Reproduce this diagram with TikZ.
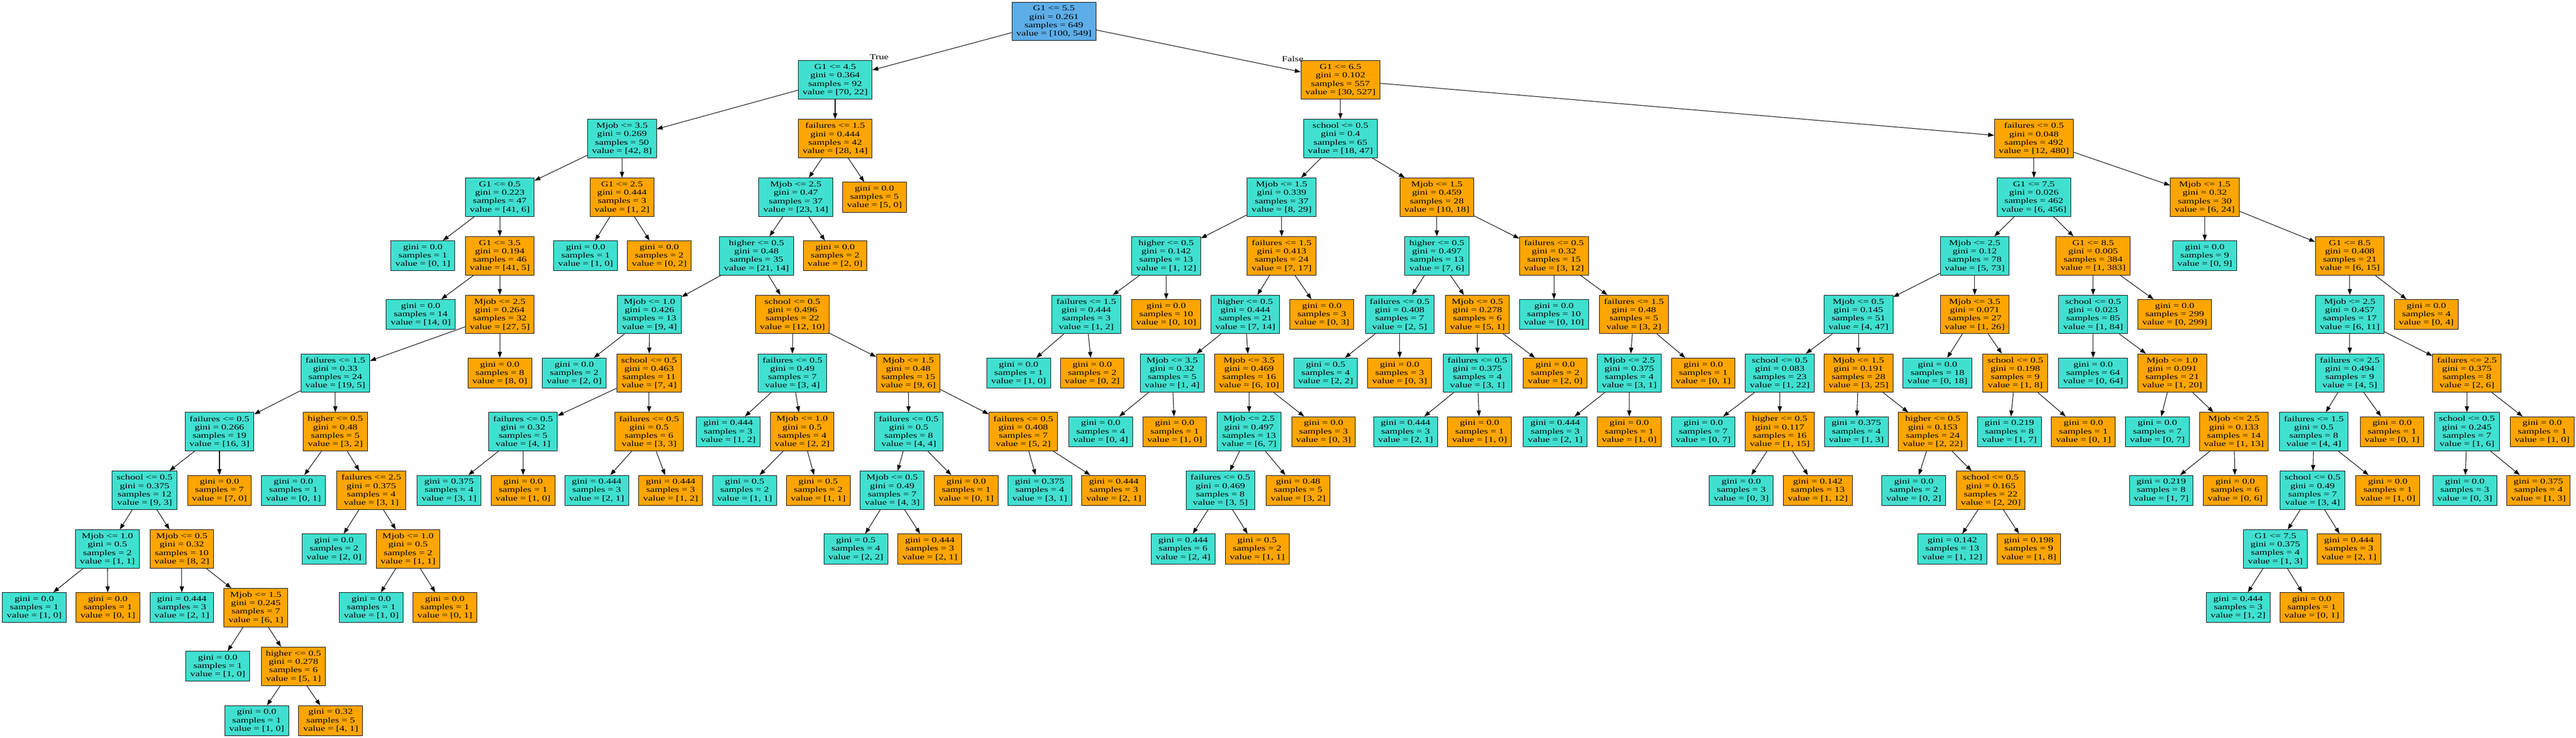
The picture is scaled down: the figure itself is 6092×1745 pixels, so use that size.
\documentclass[tikz,border=0pt]{standalone}
\usepackage{fontspec}
\setmainfont{Liberation Serif}[FakeStretch=1.337]
\usetikzlibrary{arrows.meta}
\definecolor{tq}{RGB}{64,224,208}
\definecolor{og}{RGB}{255,165,0}
\definecolor{rb}{RGB}{93,173,232}
\tikzset{
 tbox/.style={draw=black, line width=1.2pt, rectangle, align=center, inner xsep=10.5pt, inner ysep=0pt, font=\fontsize{18}{19.8}\selectfont},
 inode/.style={tbox, minimum height=91pt},
 lnode/.style={tbox, minimum height=71pt},
 cl/.style={fill=tq}, cr/.style={fill=og}, croot/.style={fill=rb},
 conn/.style={line width=1.3pt, -{Triangle[length=14pt,width=10pt]}},
 lbl/.style={font=\fontsize{18}{19.8}\selectfont, inner sep=0pt}
}
\newcommand{\inn}[8]{\node[inode,#2] (#1) at (#3,#4) {#5\\gini = #6\\samples = #7\\value = [#8]};}
\newcommand{\lf}[7]{\node[lnode,#2] (#1) at (#3,#4) {gini = #5\\samples = #6\\value = [#7]};}
\begin{document}
\begin{tikzpicture}[x=1pt,y=-1pt]
\fill[white] (0,0) rectangle (6092,1745);
\useasboundingbox (0,0) rectangle (6092,1745);
% rank 0
\inn{n0}{croot}{2492.5}{50.5}{G1 <= 5.5}{0.261}{649}{100, 549}
% rank 1
\inn{n1}{cl}{1975}{189.2}{G1 <= 4.5}{0.364}{92}{70, 22}
\inn{n2}{cr}{3170}{189.2}{G1 <= 6.5}{0.102}{557}{30, 527}
% rank 2
\inn{n3}{cl}{1471}{327.9}{Mjob <= 3.5}{0.269}{50}{42, 8}
\inn{n4}{cr}{1975}{327.9}{failures <= 1.5}{0.444}{42}{28, 14}
\inn{n5}{cl}{3170}{327.9}{school <= 0.5}{0.4}{65}{18, 47}
\inn{n6}{cr}{4810}{327.9}{failures <= 0.5}{0.048}{492}{12, 480}
% rank 3
\inn{n7}{cl}{1182}{466.6}{G1 <= 0.5}{0.223}{47}{41, 6}
\inn{n8}{cr}{1471}{466.6}{G1 <= 2.5}{0.444}{3}{1, 2}
\inn{n9}{cl}{1882}{466.6}{Mjob <= 2.5}{0.47}{37}{23, 14}
\lf{n10}{cr}{2068}{466.6}{0.0}{5}{5, 0}
\inn{n11}{cl}{3031}{466.6}{Mjob <= 1.5}{0.339}{37}{8, 29}
\inn{n12}{cr}{3398}{466.6}{Mjob <= 1.5}{0.459}{28}{10, 18}
\inn{n13}{cl}{4810}{466.6}{G1 <= 7.5}{0.026}{462}{6, 456}
\inn{n14}{cr}{5214}{466.6}{Mjob <= 1.5}{0.32}{30}{6, 24}
% rank 4
\lf{n15}{cl}{1000}{605.3}{0.0}{1}{0, 1}
\inn{n16}{cr}{1182}{605.3}{G1 <= 3.5}{0.194}{46}{41, 5}
\lf{n17}{cl}{1385}{605.3}{0.0}{1}{1, 0}
\lf{n18}{cr}{1559}{605.3}{0.0}{2}{0, 2}
\inn{n19}{cl}{1789}{605.3}{higher <= 0.5}{0.48}{35}{21, 14}
\lf{n20}{cr}{1975}{605.3}{0.0}{2}{2, 0}
\inn{n21}{cl}{2758}{605.3}{higher <= 0.5}{0.142}{13}{1, 12}
\inn{n22}{cr}{3031}{605.3}{failures <= 1.5}{0.413}{24}{7, 17}
\inn{n23}{cl}{3398}{605.3}{higher <= 0.5}{0.497}{13}{7, 6}
\inn{n24}{cr}{3675}{605.3}{failures <= 0.5}{0.32}{15}{3, 12}
\inn{n25}{cl}{4670}{605.3}{Mjob <= 2.5}{0.12}{78}{5, 73}
\inn{n26}{cr}{4950}{605.3}{G1 <= 8.5}{0.005}{384}{1, 383}
\lf{n27}{cl}{5214}{605.3}{0.0}{9}{0, 9}
\inn{n28}{cr}{5557}{605.3}{G1 <= 8.5}{0.408}{21}{6, 15}
% rank 5
\lf{n29}{cl}{995}{744}{0.0}{14}{14, 0}
\inn{n30}{cr}{1182}{744}{Mjob <= 2.5}{0.264}{32}{27, 5}
\inn{n31}{cl}{1536}{744}{Mjob <= 1.0}{0.426}{13}{9, 4}
\inn{n32}{cr}{1874}{744}{school <= 0.5}{0.496}{22}{12, 10}
\inn{n33}{cl}{2569}{744}{failures <= 1.5}{0.444}{3}{1, 2}
\lf{n34}{cr}{2758}{744}{0.0}{10}{0, 10}
\inn{n35}{cl}{2945}{744}{higher <= 0.5}{0.444}{21}{7, 14}
\lf{n36}{cr}{3126}{744}{0.0}{3}{0, 3}
\inn{n37}{cl}{3310}{744}{failures <= 0.5}{0.408}{7}{2, 5}
\inn{n38}{cr}{3494}{744}{Mjob <= 0.5}{0.278}{6}{5, 1}
\lf{n39}{cl}{3675}{744}{0.0}{10}{0, 10}
\inn{n40}{cr}{3864}{744}{failures <= 1.5}{0.48}{5}{3, 2}
\inn{n41}{cl}{4395}{744}{Mjob <= 0.5}{0.145}{51}{4, 47}
\inn{n42}{cr}{4670}{744}{Mjob <= 3.5}{0.071}{27}{1, 26}
\inn{n43}{cl}{4950}{744}{school <= 0.5}{0.023}{85}{1, 84}
\lf{n44}{cr}{5143}{744}{0.0}{299}{0, 299}
\inn{n45}{cl}{5557}{744}{Mjob <= 2.5}{0.457}{17}{6, 11}
\lf{n46}{cr}{5738}{744}{0.0}{4}{0, 4}
% rank 6
\inn{n47}{cl}{793}{882.7}{failures <= 1.5}{0.33}{24}{19, 5}
\lf{n48}{cr}{1182}{882.7}{0.0}{8}{8, 0}
\lf{n49}{cl}{1358}{882.7}{0.0}{2}{2, 0}
\inn{n50}{cr}{1535}{882.7}{school <= 0.5}{0.463}{11}{7, 4}
\inn{n51}{cl}{1874}{882.7}{failures <= 0.5}{0.49}{7}{3, 4}
\inn{n52}{cr}{2148}{882.7}{Mjob <= 1.5}{0.48}{15}{9, 6}
\lf{n53}{cl}{2409}{882.7}{0.0}{1}{1, 0}
\lf{n54}{cr}{2583}{882.7}{0.0}{2}{0, 2}
\inn{n55}{cl}{2772}{882.7}{Mjob <= 3.5}{0.32}{5}{1, 4}
\inn{n56}{cr}{2954}{882.7}{Mjob <= 3.5}{0.469}{16}{6, 10}
\lf{n57}{cl}{3135}{882.7}{0.5}{4}{2, 2}
\lf{n58}{cr}{3310}{882.7}{0.0}{3}{0, 3}
\inn{n59}{cl}{3494}{882.7}{failures <= 0.5}{0.375}{4}{3, 1}
\lf{n60}{cr}{3678}{882.7}{0.0}{2}{2, 0}
\inn{n61}{cl}{3853}{882.7}{Mjob <= 2.5}{0.375}{4}{3, 1}
\lf{n62}{cr}{4028}{882.7}{0.0}{1}{0, 1}
\inn{n63}{cl}{4209}{882.7}{school <= 0.5}{0.083}{23}{1, 22}
\inn{n64}{cr}{4395}{882.7}{Mjob <= 1.5}{0.191}{28}{3, 25}
\lf{n65}{cl}{4582}{882.7}{0.0}{18}{0, 18}
\inn{n66}{cr}{4766}{882.7}{school <= 0.5}{0.198}{9}{1, 8}
\lf{n67}{cl}{4950}{882.7}{0.0}{64}{0, 64}
\inn{n68}{cr}{5137}{882.7}{Mjob <= 1.0}{0.091}{21}{1, 20}
\inn{n69}{cl}{5557}{882.7}{failures <= 2.5}{0.494}{9}{4, 5}
\inn{n70}{cr}{5834}{882.7}{failures <= 2.5}{0.375}{8}{2, 6}
% rank 7
\inn{n71}{cl}{519}{1021.4}{failures <= 0.5}{0.266}{19}{16, 3}
\inn{n72}{cr}{793}{1021.4}{higher <= 0.5}{0.48}{5}{3, 2}
\inn{n73}{cl}{1237}{1021.4}{failures <= 0.5}{0.32}{5}{4, 1}
\inn{n74}{cr}{1535}{1021.4}{failures <= 0.5}{0.5}{6}{3, 3}
\lf{n75}{cl}{1722}{1021.4}{0.444}{3}{1, 2}
\inn{n76}{cr}{1897}{1021.4}{Mjob <= 1.0}{0.5}{4}{2, 2}
\inn{n77}{cl}{2149}{1021.4}{failures <= 0.5}{0.5}{8}{4, 4}
\inn{n78}{cr}{2420}{1021.4}{failures <= 0.5}{0.408}{7}{5, 2}
\lf{n79}{cl}{2603}{1021.4}{0.0}{4}{0, 4}
\lf{n80}{cr}{2778}{1021.4}{0.0}{1}{1, 0}
\inn{n81}{cl}{2954}{1021.4}{Mjob <= 2.5}{0.497}{13}{6, 7}
\lf{n82}{cr}{3130}{1021.4}{0.0}{3}{0, 3}
\lf{n83}{cl}{3324}{1021.4}{0.444}{3}{2, 1}
\lf{n84}{cr}{3499}{1021.4}{0.0}{1}{1, 0}
\lf{n85}{cl}{3678}{1021.4}{0.444}{3}{2, 1}
\lf{n86}{cr}{3853}{1021.4}{0.0}{1}{1, 0}
\lf{n87}{cl}{4028}{1021.4}{0.0}{7}{0, 7}
\inn{n88}{cr}{4209}{1021.4}{higher <= 0.5}{0.117}{16}{1, 15}
\lf{n89}{cl}{4390}{1021.4}{0.375}{4}{1, 3}
\inn{n90}{cr}{4571}{1021.4}{higher <= 0.5}{0.153}{24}{2, 22}
\lf{n91}{cl}{4752}{1021.4}{0.219}{8}{1, 7}
\lf{n92}{cr}{4927}{1021.4}{0.0}{1}{0, 1}
\lf{n93}{cl}{5102}{1021.4}{0.0}{7}{0, 7}
\inn{n94}{cr}{5283}{1021.4}{Mjob <= 2.5}{0.133}{14}{1, 13}
\inn{n95}{cl}{5472}{1021.4}{failures <= 1.5}{0.5}{8}{4, 4}
\lf{n96}{cr}{5657}{1021.4}{0.0}{1}{0, 1}
\inn{n97}{cl}{5834}{1021.4}{school <= 0.5}{0.245}{7}{1, 6}
\lf{n98}{cr}{6012}{1021.4}{0.0}{1}{1, 0}
% rank 8
\inn{n99}{cl}{342}{1160.1}{school <= 0.5}{0.375}{12}{9, 3}
\lf{n100}{cr}{519}{1160.1}{0.0}{7}{7, 0}
\lf{n101}{cl}{694}{1160.1}{0.0}{1}{0, 1}
\inn{n102}{cr}{878}{1160.1}{failures <= 2.5}{0.375}{4}{3, 1}
\lf{n103}{cl}{1062}{1160.1}{0.375}{4}{3, 1}
\lf{n104}{cr}{1237}{1160.1}{0.0}{1}{1, 0}
\lf{n105}{cl}{1411}{1160.1}{0.444}{3}{2, 1}
\lf{n106}{cr}{1586}{1160.1}{0.444}{3}{1, 2}
\lf{n107}{cl}{1761}{1160.1}{0.5}{2}{1, 1}
\lf{n108}{cr}{1935}{1160.1}{0.5}{2}{1, 1}
\inn{n109}{cl}{2110}{1160.1}{Mjob <= 0.5}{0.49}{7}{4, 3}
\lf{n110}{cr}{2285}{1160.1}{0.0}{1}{0, 1}
\lf{n111}{cl}{2459}{1160.1}{0.375}{4}{3, 1}
\lf{n112}{cr}{2634}{1160.1}{0.444}{3}{2, 1}
\inn{n113}{cl}{2886}{1160.1}{failures <= 0.5}{0.469}{8}{3, 5}
\lf{n114}{cr}{3070}{1160.1}{0.48}{5}{3, 2}
\lf{n115}{cl}{4118}{1160.1}{0.0}{3}{0, 3}
\lf{n116}{cr}{4299}{1160.1}{0.142}{13}{1, 12}
\lf{n117}{cl}{4526}{1160.1}{0.0}{2}{0, 2}
\inn{n118}{cr}{4708}{1160.1}{school <= 0.5}{0.165}{22}{2, 20}
\lf{n119}{cl}{5111}{1160.1}{0.219}{8}{1, 7}
\lf{n120}{cr}{5286}{1160.1}{0.0}{6}{0, 6}
\inn{n121}{cl}{5469}{1160.1}{school <= 0.5}{0.49}{7}{3, 4}
\lf{n122}{cr}{5647}{1160.1}{0.0}{1}{1, 0}
\lf{n123}{cl}{5829}{1160.1}{0.0}{3}{0, 3}
\lf{n124}{cr}{6003}{1160.1}{0.375}{4}{1, 3}
% rank 9
\inn{n125}{cl}{254}{1298.8}{Mjob <= 1.0}{0.5}{2}{1, 1}
\inn{n126}{cr}{430}{1298.8}{Mjob <= 0.5}{0.32}{10}{8, 2}
\lf{n127}{cl}{790}{1298.8}{0.0}{2}{2, 0}
\inn{n128}{cr}{965}{1298.8}{Mjob <= 1.0}{0.5}{2}{1, 1}
\lf{n129}{cl}{2024}{1298.8}{0.5}{4}{2, 2}
\lf{n130}{cr}{2199}{1298.8}{0.444}{3}{2, 1}
\lf{n131}{cl}{2798}{1298.8}{0.444}{6}{2, 4}
\lf{n132}{cr}{2973}{1298.8}{0.5}{2}{1, 1}
\lf{n133}{cl}{4617}{1298.8}{0.142}{13}{1, 12}
\lf{n134}{cr}{4798}{1298.8}{0.198}{9}{1, 8}
\inn{n135}{cl}{5381}{1298.8}{G1 <= 7.5}{0.375}{4}{1, 3}
\lf{n136}{cr}{5555}{1298.8}{0.444}{3}{2, 1}
% rank 10
\lf{n137}{cl}{81}{1437.5}{0.0}{1}{1, 0}
\lf{n138}{cr}{255}{1437.5}{0.0}{1}{0, 1}
\lf{n139}{cl}{430}{1437.5}{0.444}{3}{2, 1}
\inn{n140}{cr}{605}{1437.5}{Mjob <= 1.5}{0.245}{7}{6, 1}
\lf{n141}{cl}{878}{1437.5}{0.0}{1}{1, 0}
\lf{n142}{cr}{1052}{1437.5}{0.0}{1}{0, 1}
\lf{n143}{cl}{5293}{1437.5}{0.444}{3}{1, 2}
\lf{n144}{cr}{5467}{1437.5}{0.0}{1}{0, 1}
% rank 11
\lf{n145}{cl}{515}{1576.2}{0.0}{1}{1, 0}
\inn{n146}{cr}{694}{1576.2}{higher <= 0.5}{0.278}{6}{5, 1}
% rank 12
\lf{n147}{cl}{607}{1705}{0.0}{1}{1, 0}
\lf{n148}{cr}{782}{1705}{0.32}{5}{4, 1}
% labels
\node[lbl] (tlab) at (2079,135) {True};
\node[lbl] (flab) at (3057,139.5) {False};
% connectors
\foreach \p/\c in {n0/n1,n0/n2,n1/n3,n1/n4,n2/n5,n2/n6,
 n3/n7,n3/n8,n4/n9,n4/n10,n5/n11,n5/n12,n6/n13,n6/n14,
 n7/n15,n7/n16,n8/n17,n8/n18,n9/n19,n9/n20,n11/n21,n11/n22,n12/n23,n12/n24,n13/n25,n13/n26,n14/n27,n14/n28,
 n16/n29,n16/n30,n19/n31,n19/n32,n21/n33,n21/n34,n22/n35,n22/n36,n23/n37,n23/n38,n24/n39,n24/n40,n25/n41,n25/n42,n26/n43,n26/n44,n28/n45,n28/n46,
 n30/n47,n30/n48,n31/n49,n31/n50,n32/n51,n32/n52,n33/n53,n33/n54,n35/n55,n35/n56,n37/n57,n37/n58,n38/n59,n38/n60,n40/n61,n40/n62,n41/n63,n41/n64,n42/n65,n42/n66,n43/n67,n43/n68,n45/n69,n45/n70,
 n47/n71,n47/n72,n50/n73,n50/n74,n51/n75,n51/n76,n52/n77,n52/n78,n55/n79,n55/n80,n56/n81,n56/n82,n59/n83,n59/n84,n61/n85,n61/n86,n63/n87,n63/n88,n64/n89,n64/n90,n66/n91,n66/n92,n68/n93,n68/n94,n69/n95,n69/n96,n70/n97,n70/n98,
 n71/n99,n71/n100,n72/n101,n72/n102,n73/n103,n73/n104,n74/n105,n74/n106,n76/n107,n76/n108,n77/n109,n77/n110,n78/n111,n78/n112,n81/n113,n81/n114,n88/n115,n88/n116,n90/n117,n90/n118,n94/n119,n94/n120,n95/n121,n95/n122,n97/n123,n97/n124,
 n99/n125,n99/n126,n102/n127,n102/n128,n109/n129,n109/n130,n113/n131,n113/n132,n118/n133,n118/n134,n121/n135,n121/n136,
 n125/n137,n125/n138,n126/n139,n126/n140,n128/n141,n128/n142,n135/n143,n135/n144,
 n140/n145,n140/n146,n146/n147,n146/n148}
 \draw[conn] (\p) -- (\c);
\end{tikzpicture}
\end{document}
